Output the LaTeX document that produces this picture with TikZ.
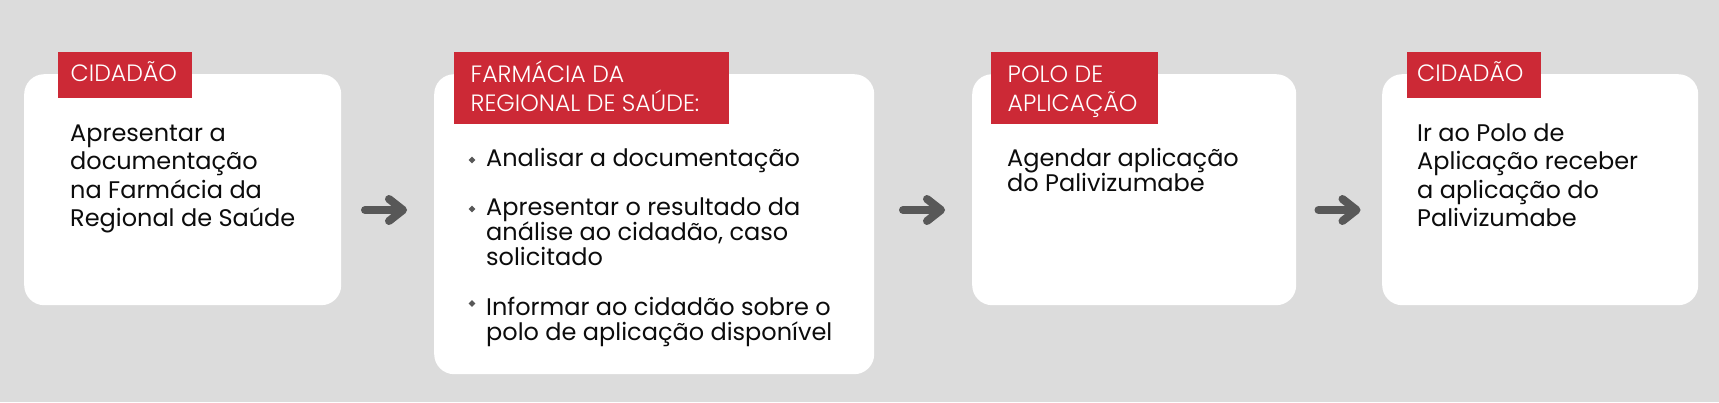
\documentclass[tikz,border=0pt]{standalone}
\usepackage{fontspec}
\setmainfont{Poppins}
\newfontfamily\taglight{Poppins Light}
\usetikzlibrary{shapes.geometric}
\definecolor{bg}{RGB}{220,220,220}
\definecolor{lab}{RGB}{204,41,54}
\definecolor{arr}{RGB}{88,88,88}
\definecolor{ink}{RGB}{12,12,12}
\begin{document}
\begin{tikzpicture}[x=1pt,y=-1pt,
  card/.style={fill=white,rounded corners=20pt,inner sep=0pt,anchor=north west},
  tag/.style={fill=lab,inner sep=0pt,anchor=north west},
  tagtext/.style={text=white,font=\taglight\fontsize{23.6}{29}\selectfont,anchor=base west,inner sep=0pt},
  body/.style={text=ink,font=\fontsize{24}{28}\selectfont,anchor=base west,inner sep=0pt},
  dot/.style={diamond,fill=arr,minimum size=7pt,inner sep=0pt},
  arrowicon/.style={draw=arr,line width=8pt,line cap=round,line join=round}]
\useasboundingbox (0,0) rectangle (1719,402);
\fill[bg] (0,0) rectangle (1719,402);
% cards
\node[card,minimum width=317pt,minimum height=231pt] (c1) at (24,74) {};
\node[card,minimum width=440pt,minimum height=300pt] (c2) at (434,74) {};
\node[card,minimum width=324pt,minimum height=231pt] (c3) at (972,74) {};
\node[card,minimum width=316pt,minimum height=231pt] (c4) at (1382,74) {};
% tags
\node[tag,minimum width=134pt,minimum height=46pt] (l1) at (58,52) {};
\node[tag,minimum width=275pt,minimum height=71.5pt] (l2) at (454,52) {};
\node[tag,minimum width=167pt,minimum height=71.5pt] (l3) at (991,52) {};
\node[tag,minimum width=134pt,minimum height=46pt] (l4) at (1407,52) {};
\node[tagtext] (l1t) at (70.5,81.5) {CIDADÃO};
\node[tagtext] (l2a) at (470.5,82.3) {FARMÁCIA DA};
\node[tagtext] (l2b) at (470.5,111.3) {REGIONAL DE SAÚDE:};
\node[tagtext] (l3a) at (1007.5,82.3) {POLO DE};
\node[tagtext] (l3b) at (1007.5,111.3) {APLICAÇÃO};
\node[tagtext] (l4t) at (1417,81.5) {CIDADÃO};
% card 1 text
\node[body] (t1a) at (70,141) {Apresentar a};
\node[body] (t1b) at (70,169.5) {documentação};
\node[body] (t1c) at (70,198) {na Farmácia da};
\node[body] (t1d) at (70,226.5) {Regional de Saúde};
% card 2 text
\node[dot] (b1) at (472,160) {};
\node[dot] (b2) at (472,209) {};
\node[dot] (b3) at (472,303.5) {};
\node[body] (t2a) at (486,166) {Analisar a documentação};
\node[body] (t2b) at (486,215) {Apresentar o resultado da};
\node[body] (t2c) at (486,240) {análise ao cidadão, caso};
\node[body] (t2d) at (486,265) {solicitado};
\node[body] (t2e) at (486,315) {Informar ao cidadão sobre o};
\node[body] (t2f) at (486,340) {polo de aplicação disponível};
% card 3 text
\node[body] (t3a) at (1007,166) {Agendar aplicação};
\node[body] (t3b) at (1007,191) {do Palivizumabe};
% card 4 text
\node[body] (t4a) at (1417,141) {Ir ao Polo de};
\node[body] (t4b) at (1417,169.5) {Aplicação receber};
\node[body] (t4c) at (1417,198) {a aplicação do};
\node[body] (t4d) at (1417,226.5) {Palivizumabe};
% arrows
\coordinate (a1) at (384,210);
\coordinate (a2) at (922,210);
\coordinate (a3) at (1337.5,210);
\foreach \a in {a1,a2,a3}{
  \draw[arrowicon] ([xshift=-19pt]\a) -- ([xshift=17pt]\a);
  \draw[arrowicon] ([xshift=5pt,yshift=-11pt]\a) -- ([xshift=19pt]\a) -- ([xshift=5pt,yshift=11pt]\a);
}
\end{tikzpicture}
\end{document}
